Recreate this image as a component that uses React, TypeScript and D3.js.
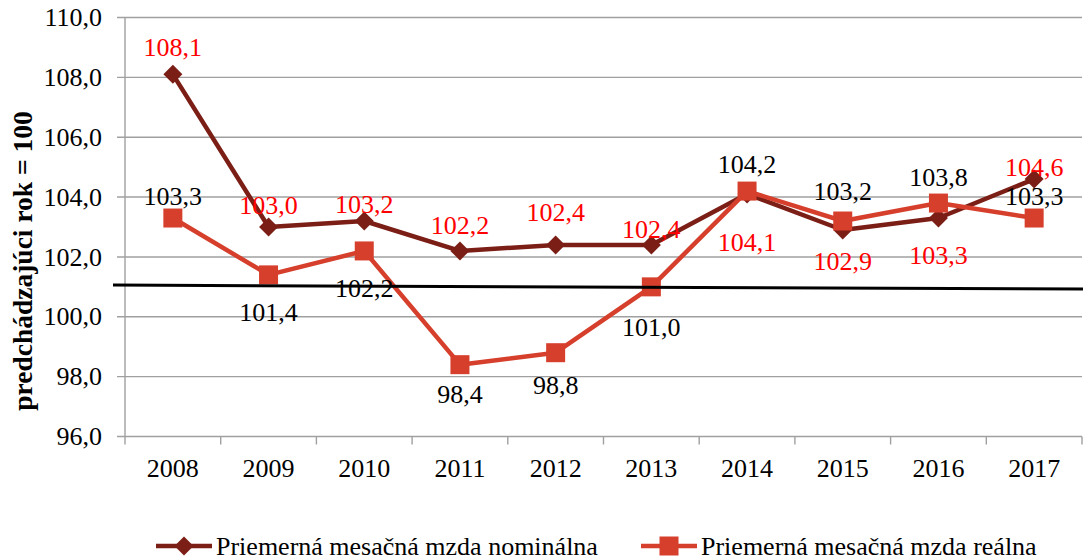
import React from "react";
import * as d3 from "d3";

// chart data
const years = ["2008", "2009", "2010", "2011", "2012", "2013", "2014", "2015", "2016", "2017"];
const nominal = [108.1, 103.0, 103.2, 102.2, 102.4, 102.4, 104.1, 102.9, 103.3, 104.6];
const real = [103.3, 101.4, 102.2, 98.4, 98.8, 101.0, 104.2, 103.2, 103.8, 103.3];
const yTicks = [96, 98, 100, 102, 104, 106, 108, 110];
const trendEnds = [101.06, 100.93];
const seriesNames = ["Priemerná mesačná mzda nominálna", "Priemerná mesačná mzda reálna"];

// label nudges (px from the point, glyph centre), as placed in the original
const nominalLabelDy = [-27, -22, -17, -26, -33, -16, 48, 31, 37, -12];
const realLabelDy = [-22, 38, 37, 30, 33, 41, -27, -30, -26, -22];

const W = 1083;
const H = 560;
const margin = { left: 125, right: 1, top: 17.5, bottom: 123.5 };
const FONT = "Liberation Serif, Times New Roman, serif";
const FS = 26;
const NOM_COLOR = "#7B1E16";
const REAL_COLOR = "#D63F2C";
const GRID = "#A0A0A0";

const fmt = (v: number) => v.toFixed(1).replace(".", ",");

const Diamond = ({ x, y, r }: { x: number; y: number; r: number }) => (
  <path d={`M${x},${y - r}L${x + r},${y}L${x},${y + r}L${x - r},${y}Z`} fill={NOM_COLOR} />
);

const Square = ({ x, y, s }: { x: number; y: number; s: number }) => (
  <rect x={x - s / 2} y={y - s / 2} width={s} height={s} fill={REAL_COLOR} />
);

export default function App() {
  const x0 = margin.left;
  const x1 = W - margin.right;
  const yTop = margin.top;
  const yBot = H - margin.bottom;

  const x = d3.scaleBand<string>().domain(years).range([x0, x1]);
  const y = d3.scaleLinear().domain([96, 110]).range([yBot, yTop]);
  const cx = (yr: string) => (x(yr) as number) + x.bandwidth() / 2;

  const line = d3
    .line<number>()
    .x((_, i) => cx(years[i]))
    .y((d) => y(d));

  const boundaries = years.map((yr) => x(yr) as number).concat([x1]);

  return (
    <div style={{ position: "absolute", left: 0, top: 0 }}>
      <svg width={W} height={H} style={{ display: "block", background: "#fff", fontFamily: FONT }}>
        {/* gridlines + y ticks */}
        {yTicks.map((t) => (
          <g key={t}>
            <line x1={x0 - 8} x2={x1} y1={y(t)} y2={y(t)} stroke={GRID} strokeWidth={1.4} />
            <text x={102} y={y(t)} dy="0.33em" textAnchor="end" fontSize={FS} fill="#000">
              {fmt(t)}
            </text>
          </g>
        ))}
        {/* axes */}
        <line x1={x0} x2={x0} y1={yTop} y2={yBot} stroke={GRID} strokeWidth={1.4} />
        {boundaries.map((b, i) => (
          <line key={i} x1={b} x2={b} y1={yBot} y2={yBot + 8} stroke={GRID} strokeWidth={1.4} />
        ))}
        {years.map((yr) => (
          <text key={yr} x={cx(yr)} y={477} textAnchor="middle" fontSize={FS} fill="#000">
            {yr}
          </text>
        ))}

        {/* y axis title */}
        <text
          transform={`translate(32,261) rotate(-90)`}
          textAnchor="middle"
          fontSize={27.5}
          fontWeight="bold"
          fill="#000"
        >
          predchádzajúci rok = 100
        </text>

        {/* series */}
        <path d={line(nominal) || ""} fill="none" stroke={NOM_COLOR} strokeWidth={4.5} strokeLinejoin="round" />
        {nominal.map((v, i) => (
          <Diamond key={i} x={cx(years[i])} y={y(v)} r={9.5} />
        ))}
        <path d={line(real) || ""} fill="none" stroke={REAL_COLOR} strokeWidth={4.5} strokeLinejoin="round" />
        {real.map((v, i) => (
          <Square key={i} x={cx(years[i])} y={y(v)} s={19} />
        ))}

        {/* trend line */}
        <line
          x1={x0 - 12}
          x2={W}
          y1={y(trendEnds[0])}
          y2={y(trendEnds[1])}
          stroke="#000"
          strokeWidth={3}
        />

        {/* data labels */}
        {nominal.map((v, i) => (
          <text
            key={"n" + i}
            x={cx(years[i])}
            y={y(v) + nominalLabelDy[i]}
            dy="0.33em"
            textAnchor="middle"
            fontSize={FS}
            fill="#FF0000"
          >
            {fmt(v)}
          </text>
        ))}
        {real.map((v, i) => (
          <text
            key={"r" + i}
            x={cx(years[i])}
            y={y(v) + realLabelDy[i]}
            dy="0.33em"
            textAnchor="middle"
            fontSize={FS}
            fill="#000"
          >
            {fmt(v)}
          </text>
        ))}

        {/* legend */}
        <g>
          <line x1={156} x2={212} y1={546} y2={546} stroke={NOM_COLOR} strokeWidth={4.5} />
          <Diamond x={184} y={546} r={9.5} />
          <text x={216} y={546} dy="0.33em" fontSize={FS} fill="#000">
            {seriesNames[0]}
          </text>
          <line x1={641} x2={697} y1={546} y2={546} stroke={REAL_COLOR} strokeWidth={4.5} />
          <Square x={669} y={546} s={19} />
          <text x={701} y={546} dy="0.33em" fontSize={FS} fill="#000">
            {seriesNames[1]}
          </text>
        </g>
      </svg>
    </div>
  );
}
